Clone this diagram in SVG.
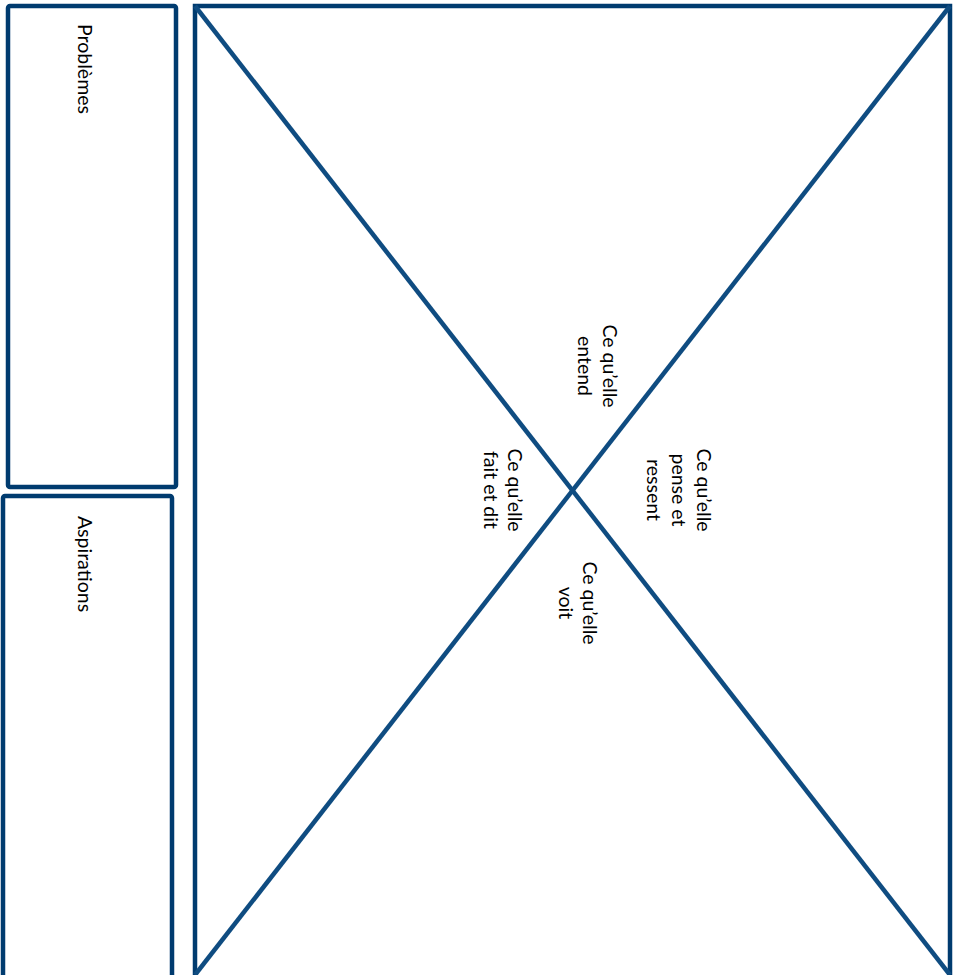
<svg xmlns="http://www.w3.org/2000/svg" width="955" height="975" viewBox="0 0 955 975">
<style>
.box{fill:#ffffff;stroke:#003b6f;stroke-width:4.5}
.diag{stroke:#0f4c81;stroke-width:4.5;fill:none}
.t{font-family:"Lato","Open Sans",sans-serif;font-size:19.5px;fill:#000000;text-anchor:middle}
</style>
<rect width="955" height="975" fill="#ffffff"/>
<g id="problemes">
<rect class="box" x="8" y="6" width="168" height="481" rx="2"/>
<text class="t" transform="translate(78,69) rotate(90)">Problèmes</text>
</g>
<g id="aspirations">
<rect class="box" x="3" y="496" width="169" height="500" rx="2"/>
<text class="t" transform="translate(78,564) rotate(90)">Aspirations</text>
</g>
<g id="carte">
<rect class="box" x="195" y="6" width="755" height="990"/>
</g>
<g id="connectors">
<line class="diag" x1="195" y1="6" x2="950" y2="975"/>
<line class="diag" x1="195" y1="975" x2="950" y2="6"/>
</g>
<g id="entend">
<text class="t" transform="translate(603,366) rotate(90)"><tspan x="0" y="0">Ce qu’elle</tspan><tspan x="0" y="25">entend</tspan></text>
</g>
<g id="fait">
<text class="t" transform="translate(508,490) rotate(90)"><tspan x="0" y="0">Ce qu’elle</tspan><tspan x="0" y="24">fait et dit</tspan></text>
</g>
<g id="pense">
<text class="t" transform="translate(697,490) rotate(90)"><tspan x="0" y="0">Ce qu’elle</tspan><tspan x="0" y="25">pense et</tspan><tspan x="0" y="50">ressent</tspan></text>
</g>
<g id="voit">
<text class="t" transform="translate(583,603) rotate(90)"><tspan x="0" y="0">Ce qu’elle</tspan><tspan x="0" y="24">voit</tspan></text>
</g>
</svg>
